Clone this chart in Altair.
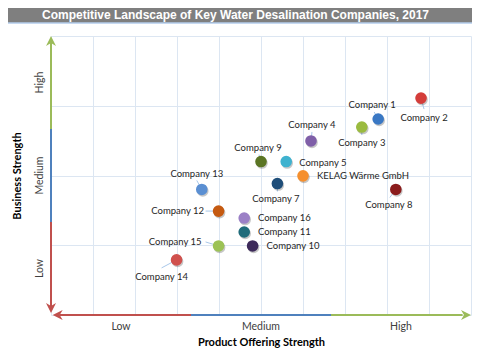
import altair as alt
import pandas as pd

# ---------------- data ----------------
companies = ["Company 1", "Company 2", "Company 3", "Company 4", "Company 5",
             "Company 9", "KELAG Wärme GmbH", "Company 7", "Company 13", "Company 8",
             "Company 12", "Company 16", "Company 11", "Company 15", "Company 10",
             "Company 14"]
product_strength = [7.79, 8.81, 7.40, 6.19, 5.60, 5.00, 6.00, 5.39, 3.59, 8.21,
                    3.99, 4.60, 4.60, 3.99, 4.80, 2.99]
business_strength = [5.62, 6.22, 5.39, 4.99, 4.40, 4.40, 3.99, 3.77, 3.60, 3.60,
                     2.98, 2.78, 2.38, 1.98, 1.98, 1.58]
point_colors = ["#3a78c4", "#d43d3a", "#9bbb40", "#7f5fa8", "#3fb2cf", "#5b7524",
                "#f5902f", "#1f4e79", "#5b8fd2", "#8b1c1c", "#c55a11", "#9b80c6",
                "#1f6b7a", "#9cc255", "#3d2a5a", "#d0504d"]
level_labels = ["Low", "Medium", "High"]
chart_title = "Competitive Landscape of Key Water Desalination Companies, 2017"

# ---------------- layout / style ----------------
X_MAX, Y_MAX = 10, 8
W, H = 420, 279
PX_X, PX_Y = W / X_MAX, H / Y_MAX
LEFT, TOP, RIGHT, BOTTOM = 43, 28, 1, 34
FONT = "Lato"
AX_RED, AX_BLUE, AX_GREEN = "#c0504d", "#4f81bd", "#9bbb59"

# label offsets (dx, dy, align, leader dx, leader dy) in pixels
label_pos = {
    "Company 1": (-6, -14, "center", -4, -7),
    "Company 2": (3, 20, "center", 3, 11),
    "Company 3": (0, 16, "center", 0, 8),
    "Company 4": (1, -16, "center", 1, -9),
    "Company 5": (13, 1.5, "left", 0, 0),
    "Company 9": (-3, -14, "center", -2, -7),
    "KELAG Wärme GmbH": (14, 0, "left", 0, 0),
    "Company 7": (-1.5, 15.5, "center", 0, 8),
    "Company 13": (-5, -15, "center", -5, -9),
    "Company 8": (-7, 16, "center", -6, 8),
    "Company 12": (-14.5, 0, "right", -13, 0),
    "Company 16": (13.7, 0, "left", 0, 0),
    "Company 11": (13.7, 0, "left", 0, 0),
    "Company 15": (-17, -3.7, "right", -13, -4),
    "Company 10": (14, 0.5, "left", 0, 0),
    "Company 14": (-15, 17, "center", -15, 8),
}

df = pd.DataFrame({"name": companies, "x": product_strength,
                   "y": business_strength, "color": point_colors})

xs = alt.Scale(domain=[0, X_MAX], nice=False, zero=False)
ys = alt.Scale(domain=[0, Y_MAX], nice=False, zero=False)

# ---------------- decorations ----------------
title_bar = alt.Chart(alt.Data(values=[{}])).mark_rect(color="#7f7f7f").encode(
    x=alt.value(-LEFT), x2=alt.value(W + RIGHT), y=alt.value(-TOP), y2=alt.value(-13.5))
title_line = alt.Chart(alt.Data(values=[{}])).mark_rule(color="#8eb4e3", strokeWidth=1).encode(
    x=alt.value(-LEFT), x2=alt.value(W + RIGHT), y=alt.value(-13), y2=alt.value(-13))
title_text = alt.Chart(alt.Data(values=[{}])).mark_text(
    text=chart_title, font="Liberation Sans", fontWeight="bold", fontSize=12,
    color="white", align="center", baseline="middle"
).encode(x=alt.value(184.5), y=alt.value(-21))

# base layer with the grid and axis titles
grid = alt.Chart(df).mark_point(opacity=0).encode(
    x=alt.X("x:Q", scale=xs, axis=alt.Axis(
        values=list(range(X_MAX + 1)), grid=True, labels=False, ticks=False, domain=False,
        title="Product Offering Strength", titleY=27, titleBaseline="middle",
        titleFont=FONT, titleFontSize=11, titleFontWeight="bold", titleColor="#000000")),
    y=alt.Y("y:Q", scale=ys, axis=alt.Axis(
        values=list(range(Y_MAX + 1)), grid=True, labels=False, ticks=False, domain=False,
        title="Business Strength", titleX=-34, titleY=H / 2, titleBaseline="middle",
        titleAlign="center", titleAngle=270,
        titleFont=FONT, titleFontSize=11, titleFontWeight="bold", titleColor="#000000")),
)

# coloured axis segments
t1x, t2x = X_MAX / 3, 2 * X_MAX / 3
t1y, t2y = Y_MAX / 3, 2 * Y_MAX / 3
seg = pd.DataFrame([
    {"x": 0, "x2": 0, "y": 0.2, "y2": t1y, "c": AX_RED},
    {"x": 0, "x2": 0, "y": t1y, "y2": t2y, "c": AX_BLUE},
    {"x": 0, "x2": 0, "y": t2y, "y2": Y_MAX - 0.2, "c": AX_GREEN},
    {"x": 0.2, "x2": t1x, "y": 0, "y2": 0, "c": AX_RED},
    {"x": t1x, "x2": t2x, "y": 0, "y2": 0, "c": AX_BLUE},
    {"x": t2x, "x2": X_MAX - 0.2, "y": 0, "y2": 0, "c": AX_GREEN},
])
axis_lines = alt.Chart(seg).mark_rule(strokeWidth=2).encode(
    x=alt.X("x:Q", scale=xs), x2="x2:Q",
    y=alt.Y("y:Q", scale=ys), y2="y2:Q",
    color=alt.Color("c:N", scale=None))

heads = pd.DataFrame([
    {"x": 0, "y": Y_MAX, "a": 270, "c": AX_GREEN},
    {"x": 0, "y": 0.06, "a": 90, "c": AX_RED},
    {"x": 0.04, "y": 0, "a": 180, "c": AX_RED},
    {"x": X_MAX, "y": 0, "a": 0, "c": AX_GREEN},
])
arrow_heads = alt.Chart(heads).mark_point(
    shape="M0,0 L-2,-1 L-1.4,0 L-2,1 Z", filled=True, size=100, opacity=1
).encode(x=alt.X("x:Q", scale=xs), y=alt.Y("y:Q", scale=ys),
         angle=alt.Angle("a:Q", scale=None), color=alt.Color("c:N", scale=None))

lv = pd.DataFrame({"label": level_labels,
                   "x": [X_MAX / 6, X_MAX / 2, 5 * X_MAX / 6],
                   "y": [Y_MAX / 6, Y_MAX / 2, 5 * Y_MAX / 6]})
x_levels = alt.Chart(lv).mark_text(font=FONT, fontSize=10.5, color="#404040",
                                   baseline="middle").encode(
    x=alt.X("x:Q", scale=xs), y=alt.value(H + 12), text="label:N")
y_levels = alt.Chart(lv).mark_text(font=FONT, fontSize=10.5, color="#404040",
                                   baseline="middle", angle=270).encode(
    y=alt.Y("y:Q", scale=ys), x=alt.value(-11), text="label:N")

# leader lines
lead = df.copy()
lead["lx"] = [label_pos[n][3] for n in companies]
lead["ly"] = [label_pos[n][4] for n in companies]
lead = lead[(lead["lx"] != 0) | (lead["ly"] != 0)].copy()
lead["x2"] = lead["x"] + lead["lx"] / PX_X
lead["y2"] = lead["y"] - lead["ly"] / PX_Y
leaders = alt.Chart(lead).mark_rule(color="#a9c8ea", strokeWidth=1).encode(
    x=alt.X("x:Q", scale=xs), x2="x2:Q",
    y=alt.Y("y:Q", scale=ys), y2="y2:Q")

shadow = alt.Chart(df).mark_circle(size=135, color="#000000", opacity=0.22,
                                   xOffset=1, yOffset=1.5).encode(
    x=alt.X("x:Q", scale=xs), y=alt.Y("y:Q", scale=ys))
points = alt.Chart(df).mark_circle(size=135, opacity=1).encode(
    x=alt.X("x:Q", scale=xs), y=alt.Y("y:Q", scale=ys),
    color=alt.Color("color:N", scale=None), tooltip=["name:N"])

labels = []
for n in companies:
    dx, dy, al = label_pos[n][:3]
    labels.append(alt.Chart(df).transform_filter(alt.datum.name == n).mark_text(
        dx=dx, dy=dy, align=al, baseline="middle", font=FONT, fontSize=9.5,
        color="#262626").encode(
        x=alt.X("x:Q", scale=xs), y=alt.Y("y:Q", scale=ys),
        text="name:N"))

chart = alt.layer(
    grid, title_bar, title_line, title_text, axis_lines, arrow_heads,
    x_levels, y_levels, leaders, shadow, points, *labels
).properties(
    width=W, height=H,
    autosize=alt.AutoSizeParams(type="none"),
    padding={"left": LEFT, "top": TOP, "right": RIGHT, "bottom": BOTTOM},
    background="white",
).configure_view(stroke=None).configure_axis(gridColor="#dce6f2", gridWidth=1)

chart.save("out.html", embed_options={"renderer": "svg", "actions": False})
